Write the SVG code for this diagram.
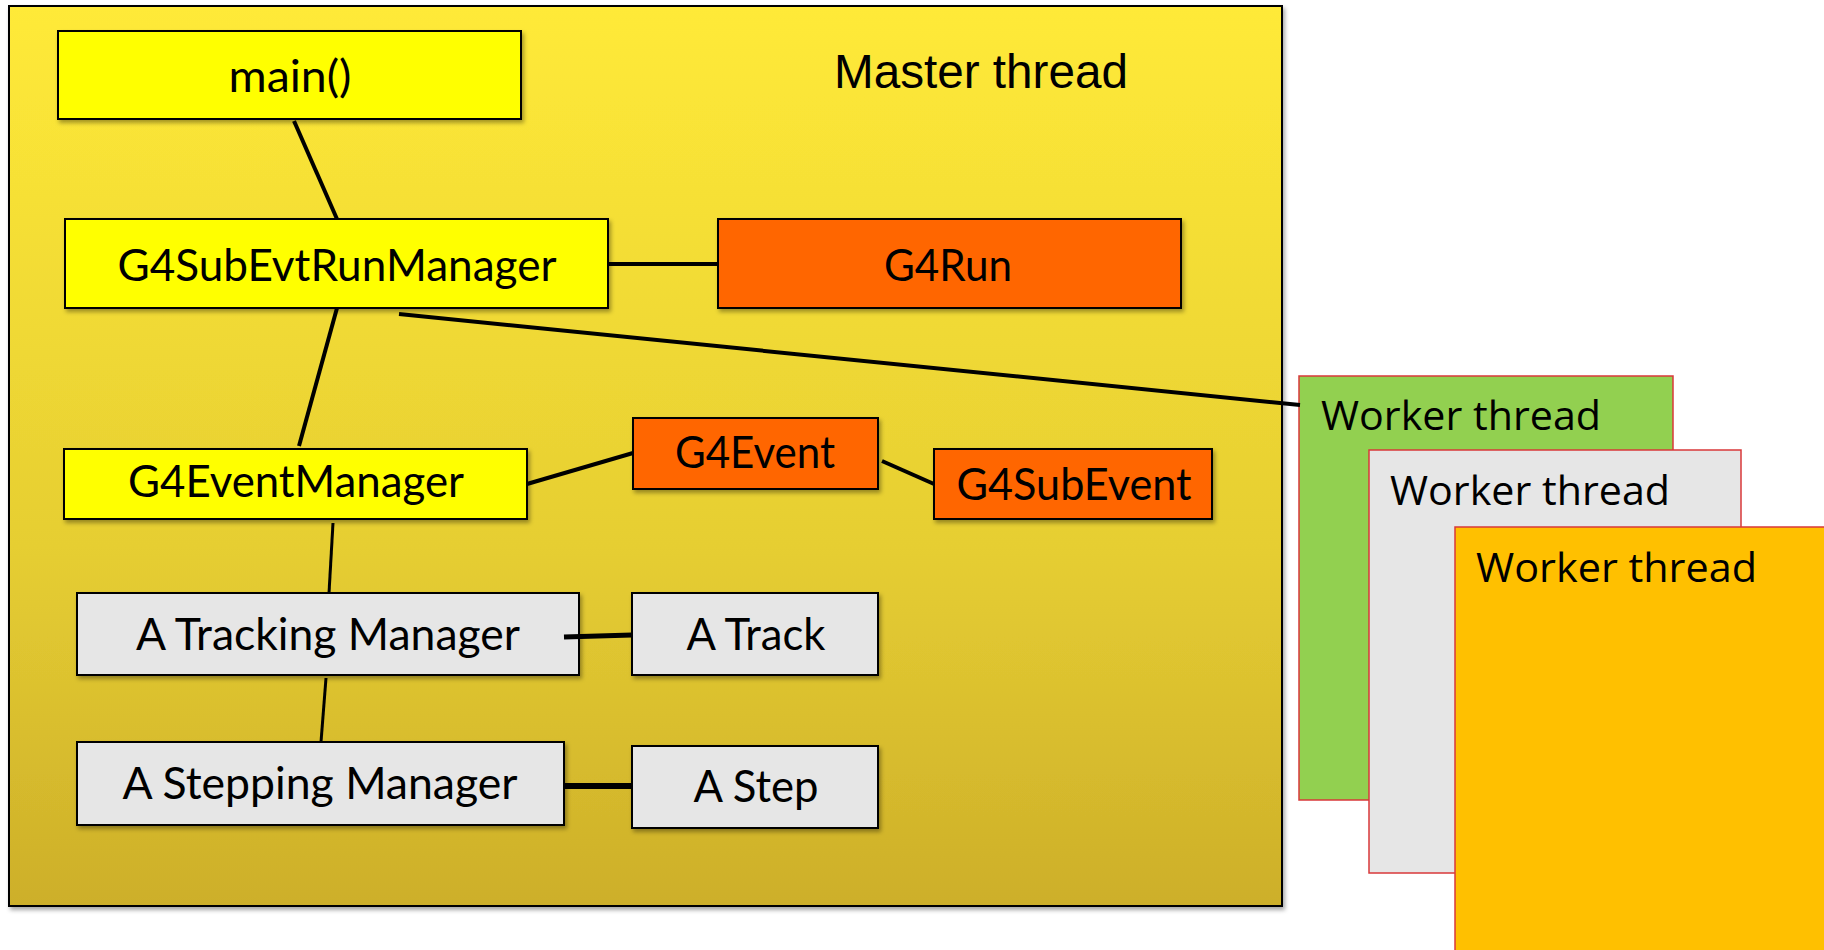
<svg xmlns="http://www.w3.org/2000/svg" width="1824" height="950" viewBox="0 0 1824 950">
  <defs>
    <linearGradient id="masterGrad" x1="0" y1="0" x2="0" y2="1">
      <stop offset="0" stop-color="#FFEA38"/>
      <stop offset="0.6" stop-color="#E6CE32"/>
      <stop offset="1" stop-color="#CDAF2A"/>
    </linearGradient>
    <filter id="shadow" x="-5%" y="-10%" width="115%" height="130%">
      <feDropShadow dx="2" dy="3" stdDeviation="2" flood-color="#000" flood-opacity="0.35"/>
    </filter>
    <style>
      .node { stroke: #000; stroke-width: 2; filter: url(#shadow); }
      .yellow { fill: #FFFF00; }
      .orange { fill: #FF6600; }
      .grey { fill: #E6E6E6; }
      .label { font-family: Lato, "Open Sans", sans-serif; font-size: 44px; fill: #000; text-anchor: middle; }
      .worker { stroke: #D9383A; stroke-width: 1.5; }
      .wlabel { font-family: "Open Sans", "Noto Sans", sans-serif; font-size: 41px; fill: #000; }
      .conn { stroke: #000; fill: none; stroke-linecap: butt; }
    </style>
  </defs>

  <rect width="1824" height="950" fill="#FFFFFF"/>

  <g id="master-thread">
    <rect x="9" y="6" width="1273" height="900" fill="url(#masterGrad)" stroke="#000" stroke-width="2" filter="url(#shadow)"/>
    <text x="834" y="88" font-family="'Liberation Sans', Arial, sans-serif" font-size="48" textLength="294" lengthAdjust="spacingAndGlyphs">Master thread</text>
  </g>

  <g id="worker-thread-1">
    <rect class="worker" x="1299" y="376" width="374" height="424" fill="#92D050"/>
    <text class="wlabel" x="1321" y="430" textLength="280" lengthAdjust="spacingAndGlyphs">Worker thread</text>
  </g>
  <g id="worker-thread-2">
    <rect class="worker" x="1369" y="450" width="372" height="423" fill="#E6E6E6"/>
    <text class="wlabel" x="1390" y="505" textLength="280" lengthAdjust="spacingAndGlyphs">Worker thread</text>
  </g>
  <g id="worker-thread-3">
    <rect class="worker" x="1455" y="527" width="380" height="440" fill="#FFC000"/>
    <text class="wlabel" x="1476" y="582" textLength="281" lengthAdjust="spacingAndGlyphs">Worker thread</text>
  </g>

  <g id="main">
    <rect class="node yellow" x="58" y="31" width="463" height="88"/>
    <text class="label" x="290" y="92" font-size="47" textLength="123" lengthAdjust="spacingAndGlyphs">main()</text>
  </g>
  <g id="G4SubEvtRunManager">
    <rect class="node yellow" x="65" y="219" width="543" height="89"/>
    <text class="label" x="337" y="281" textLength="439" lengthAdjust="spacingAndGlyphs">G4SubEvtRunManager</text>
  </g>
  <g id="G4Run">
    <rect class="node orange" x="718" y="219" width="463" height="89"/>
    <text class="label" x="948" y="281" textLength="128" lengthAdjust="spacingAndGlyphs">G4Run</text>
  </g>
  <g id="G4EventManager">
    <rect class="node yellow" x="64" y="449" width="463" height="70"/>
    <text class="label" x="296" y="497" textLength="336" lengthAdjust="spacingAndGlyphs">G4EventManager</text>
  </g>
  <g id="G4Event">
    <rect class="node orange" x="633" y="418" width="245" height="71"/>
    <text class="label" x="755" y="468" textLength="160" lengthAdjust="spacingAndGlyphs">G4Event</text>
  </g>
  <g id="G4SubEvent">
    <rect class="node orange" x="934" y="449" width="278" height="70"/>
    <text class="label" x="1074" y="500" textLength="235" lengthAdjust="spacingAndGlyphs">G4SubEvent</text>
  </g>
  <g id="A-Tracking-Manager">
    <rect class="node grey" x="77" y="593" width="502" height="82"/>
    <text class="label" x="328" y="650" textLength="384" lengthAdjust="spacingAndGlyphs">A Tracking Manager</text>
  </g>
  <g id="A-Track">
    <rect class="node grey" x="632" y="593" width="246" height="82"/>
    <text class="label" x="756" y="650" textLength="139" lengthAdjust="spacingAndGlyphs">A Track</text>
  </g>
  <g id="A-Stepping-Manager">
    <rect class="node grey" x="77" y="742" width="487" height="83"/>
    <text class="label" x="320" y="799" textLength="395" lengthAdjust="spacingAndGlyphs">A Stepping Manager</text>
  </g>
  <g id="A-Step">
    <rect class="node grey" x="632" y="746" width="246" height="82"/>
    <text class="label" x="756" y="802" textLength="125" lengthAdjust="spacingAndGlyphs">A Step</text>
  </g>

  <g id="connectors">
    <line class="conn" x1="294" y1="121" x2="337" y2="219" stroke-width="4"/>
    <line class="conn" x1="608" y1="264" x2="718" y2="264" stroke-width="4"/>
    <line class="conn" x1="399" y1="314" x2="1300" y2="405" stroke-width="4"/>
    <line class="conn" x1="337" y1="308" x2="299" y2="446" stroke-width="4"/>
    <line class="conn" x1="527" y1="484" x2="633" y2="453" stroke-width="4"/>
    <line class="conn" x1="882" y1="461" x2="934" y2="484" stroke-width="4"/>
    <line class="conn" x1="333" y1="523" x2="329" y2="593" stroke-width="3"/>
    <line class="conn" x1="564" y1="637" x2="632" y2="635" stroke-width="5"/>
    <line class="conn" x1="326" y1="678" x2="321" y2="742" stroke-width="3"/>
    <line class="conn" x1="564" y1="786" x2="632" y2="786" stroke-width="6"/>
  </g>
</svg>
